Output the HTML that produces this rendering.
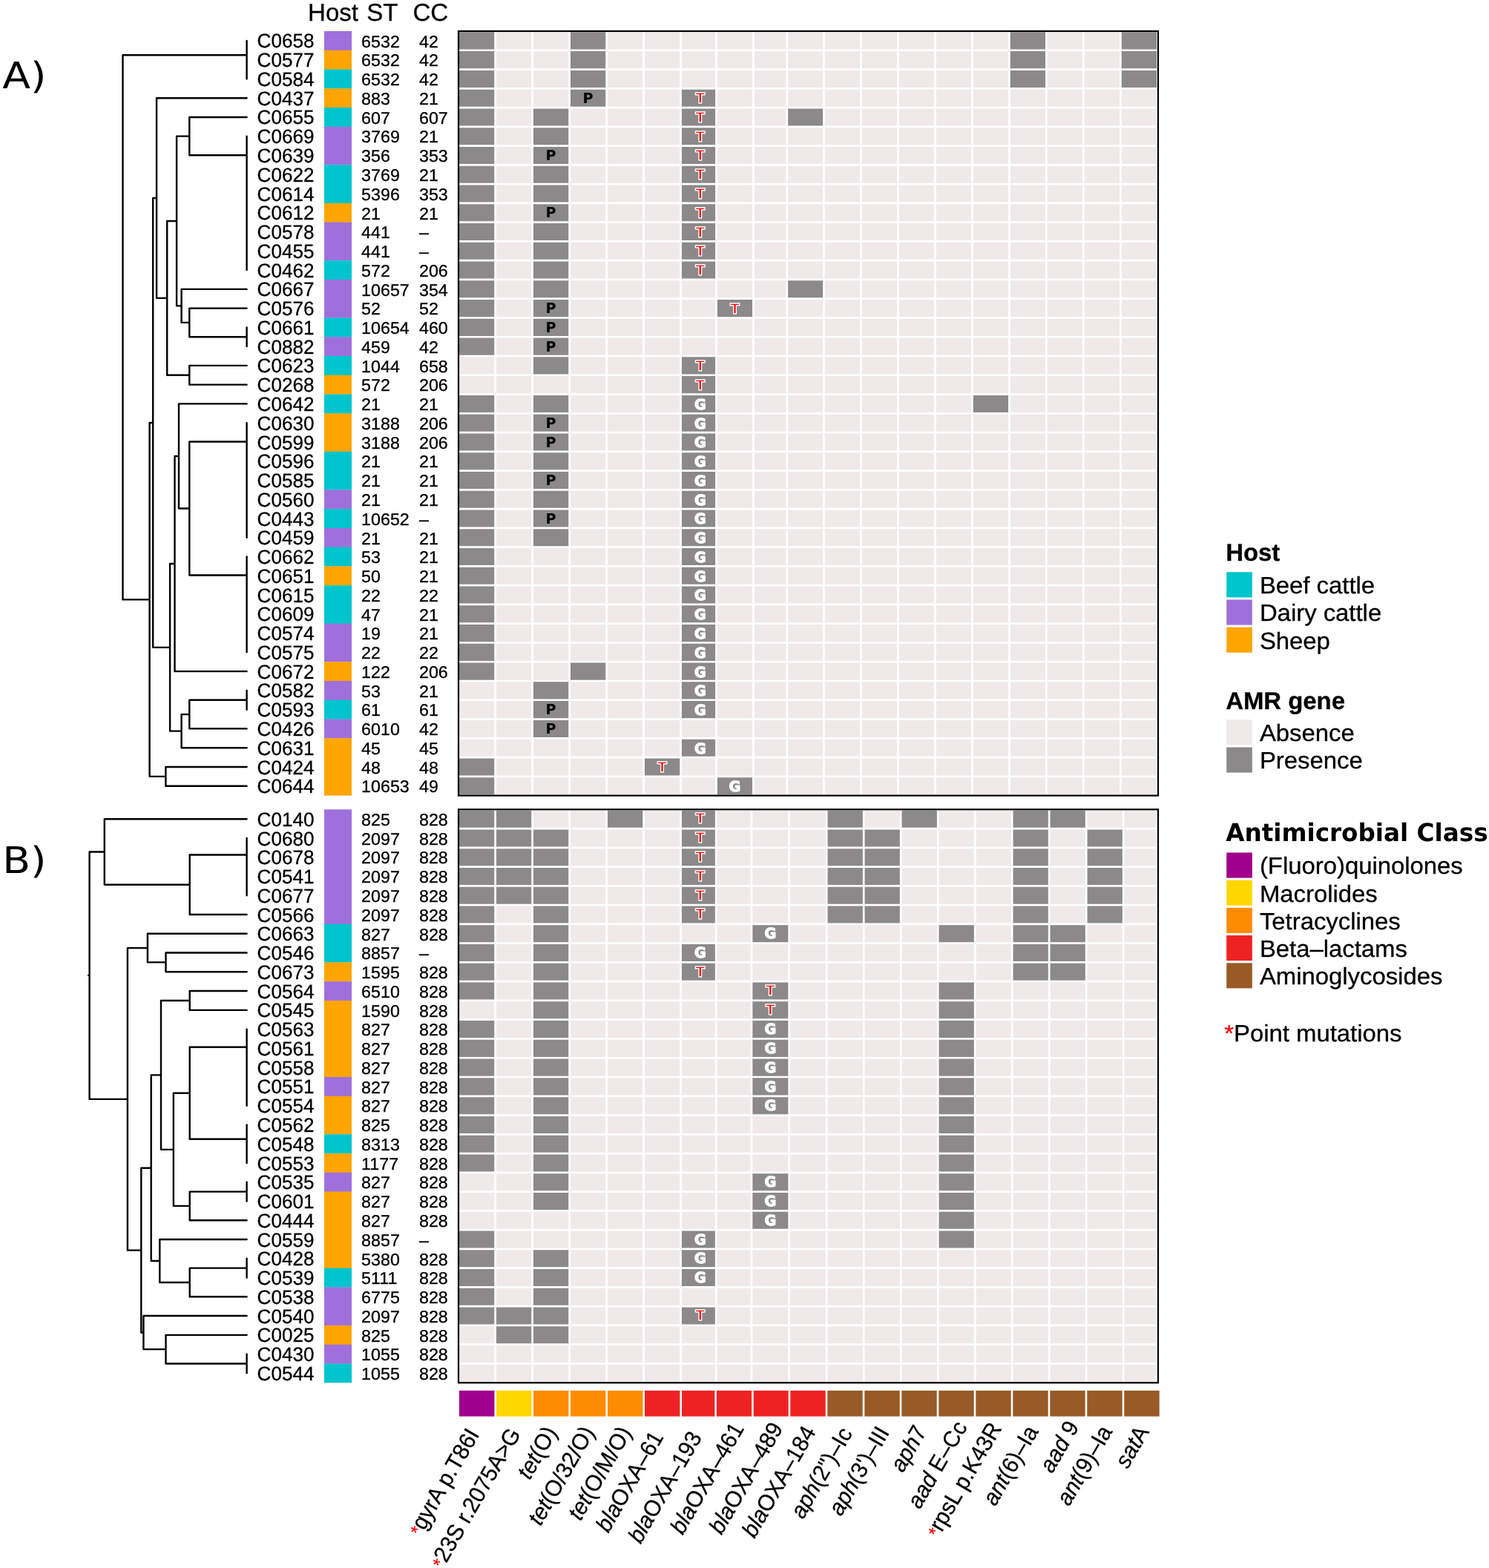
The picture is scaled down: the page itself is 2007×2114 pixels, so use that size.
<!DOCTYPE html>
<html lang="en"><head><meta charset="utf-8"><title>AMR gene heatmap with phylogeny</title>
<style>
html,body{margin:0;padding:0;background:#fff}
svg{display:block}
text{font-family:"Liberation Sans",Arial,Helvetica,sans-serif;fill:#000;text-rendering:geometricPrecision}
.dj{font-family:"DejaVu Sans",Verdana,sans-serif}
.b{font-weight:bold}
.i{font-style:italic}
.r{fill:#f00}
.rl,.st,.hd,.lg,.lgt,.cl{stroke:#000;stroke-width:0.3px}
.r{stroke:#f00}
.rl{font-size:26.6px}
.st{font-size:22.8px}
.hd{font-size:33.1px}
.lg{font-size:31.9px}
.cl{font-size:31px}
.lt{font-family:"DejaVu Sans",Verdana,sans-serif;font-weight:bold;font-size:19.2px;text-anchor:middle}
.lp{fill:#000}
.lh{stroke:#fff;stroke-width:1.3px;stroke-linejoin:round}
.lg2{fill:#fff}
.lt2{fill:#f00}
.tree{fill:none;stroke:#000;stroke-width:2.4;stroke-linecap:round;stroke-linejoin:round}
.box{fill:none;stroke:#000;stroke-width:2.2}
</style></head><body>
<svg width="2007" height="2114" viewBox="0 0 2007 2114" role="img" aria-label="AMR gene presence heatmaps with phylogenetic trees">
<rect width="2007" height="2114" fill="#fff"/>
<g class="hd"><text x="415" y="27.5">Host</text><text x="494.2" y="27.5">ST</text><text x="556.4" y="27.5">CC</text></g>
<text class="dj" font-size="49.3" transform="translate(3.2 118.75) scale(1.12 1)">A)</text>
<text class="dj" font-size="49.3" transform="translate(3.2 1177.0) scale(1.12 1)">B)</text>
<g id="panelA">
<path class="tree" d="M165.5 74.21V808.39M165.5 74.21H332.6M332.6 54.88V106.41M165.5 808.39H201.6M201.6 569.94V1046.84M201.6 569.94H206.2M206.2 267.03V872.85M206.2 267.03H211.05M211.05 132.18V401.88M211.05 132.18H332.6M211.05 401.88H225.2M225.2 297.99V505.77M225.2 297.99H238.1M238.1 183.61V412.37M238.1 183.61H255.3M255.3 157.94V209.27M255.3 157.94H332.6M255.3 209.27H332.6M332.6 183.71V364.06M238.1 412.37H244.6M244.6 389.83V434.92M244.6 389.83H332.6M244.6 434.92H255.3M255.3 415.59V454.24M255.3 415.59H332.6M255.3 454.24H332.6M332.6 441.36V467.12M225.2 505.77H255.3M255.3 492.89V518.65M255.3 492.89H332.6M255.3 518.65H332.6M206.2 872.85H229.1M229.1 760.05V985.64M229.1 760.05H235.5M235.5 614.97V905.13M235.5 614.97H241M241 544.42V685.52M241 544.42H332.6M241 685.52H255.3M255.3 595.54V775.5M255.3 595.54H332.6M332.6 570.18V724.77M255.3 775.5H332.6M332.6 750.54V879.36M235.5 905.13H332.6M229.1 985.64H244.6M244.6 963.1V1008.19M244.6 963.1H255.3M255.3 943.78V982.42M255.3 943.78H332.6M332.6 930.89V956.66M255.3 982.42H332.6M244.6 1008.19H332.6M201.6 1046.84H223.4M223.4 1033.95V1059.72M223.4 1033.95H332.6M223.4 1059.72H332.6"/>
<rect x="437" y="42" width="37" height="26.07" fill="#9f70dc"/>
<rect x="437" y="67.77" width="37" height="26.07" fill="#ffa500"/>
<rect x="437" y="93.53" width="37" height="26.07" fill="#00c5cd"/>
<rect x="437" y="119.3" width="37" height="26.07" fill="#ffa500"/>
<rect x="437" y="145.06" width="37" height="26.07" fill="#00c5cd"/>
<rect x="437" y="170.82" width="37" height="51.83" fill="#9f70dc"/>
<rect x="437" y="222.36" width="37" height="51.83" fill="#00c5cd"/>
<rect x="437" y="273.88" width="37" height="26.07" fill="#ffa500"/>
<rect x="437" y="299.65" width="37" height="51.83" fill="#9f70dc"/>
<rect x="437" y="351.18" width="37" height="26.07" fill="#00c5cd"/>
<rect x="437" y="376.94" width="37" height="51.83" fill="#9f70dc"/>
<rect x="437" y="428.48" width="37" height="26.07" fill="#00c5cd"/>
<rect x="437" y="454.24" width="37" height="26.07" fill="#9f70dc"/>
<rect x="437" y="480" width="37" height="26.07" fill="#00c5cd"/>
<rect x="437" y="505.77" width="37" height="26.07" fill="#ffa500"/>
<rect x="437" y="531.54" width="37" height="26.07" fill="#00c5cd"/>
<rect x="437" y="557.3" width="37" height="51.83" fill="#ffa500"/>
<rect x="437" y="608.83" width="37" height="51.83" fill="#00c5cd"/>
<rect x="437" y="660.36" width="37" height="26.07" fill="#9f70dc"/>
<rect x="437" y="686.12" width="37" height="26.07" fill="#00c5cd"/>
<rect x="437" y="711.89" width="37" height="26.07" fill="#9f70dc"/>
<rect x="437" y="737.65" width="37" height="26.07" fill="#00c5cd"/>
<rect x="437" y="763.42" width="37" height="26.07" fill="#ffa500"/>
<rect x="437" y="789.19" width="37" height="51.83" fill="#00c5cd"/>
<rect x="437" y="840.72" width="37" height="51.83" fill="#9f70dc"/>
<rect x="437" y="892.25" width="37" height="26.07" fill="#ffa500"/>
<rect x="437" y="918.01" width="37" height="26.07" fill="#9f70dc"/>
<rect x="437" y="943.77" width="37" height="26.07" fill="#00c5cd"/>
<rect x="437" y="969.54" width="37" height="26.07" fill="#9f70dc"/>
<rect x="437" y="995.31" width="37" height="77.3" fill="#ffa500"/>
<g class="rl" transform="translate(346.6 0) scale(0.98 1)">
<text y="64.43">C0658</text>
<text y="90.2">C0577</text>
<text y="115.96">C0584</text>
<text y="141.73">C0437</text>
<text y="167.49">C0655</text>
<text y="193.26">C0669</text>
<text y="219.02">C0639</text>
<text y="244.79">C0622</text>
<text y="270.55">C0614</text>
<text y="296.32">C0612</text>
<text y="322.08">C0578</text>
<text y="347.85">C0455</text>
<text y="373.61">C0462</text>
<text y="399.38">C0667</text>
<text y="425.14">C0576</text>
<text y="450.91">C0661</text>
<text y="476.67">C0882</text>
<text y="502.44">C0623</text>
<text y="528.2">C0268</text>
<text y="553.97">C0642</text>
<text y="579.73">C0630</text>
<text y="605.5">C0599</text>
<text y="631.26">C0596</text>
<text y="657.03">C0585</text>
<text y="682.79">C0560</text>
<text y="708.56">C0443</text>
<text y="734.32">C0459</text>
<text y="760.09">C0662</text>
<text y="785.85">C0651</text>
<text y="811.62">C0615</text>
<text y="837.38">C0609</text>
<text y="863.15">C0574</text>
<text y="888.91">C0575</text>
<text y="914.68">C0672</text>
<text y="940.44">C0582</text>
<text y="966.21">C0593</text>
<text y="991.97">C0426</text>
<text y="1017.74">C0631</text>
<text y="1043.5">C0424</text>
<text y="1069.27">C0644</text>
</g>
<g class="st" transform="translate(487.1 0) scale(1.02 1)">
<text y="63.63">6532</text><text x="76.37" y="63.63">42</text>
<text y="89.4">6532</text><text x="76.37" y="89.4">42</text>
<text y="115.16">6532</text><text x="76.37" y="115.16">42</text>
<text y="140.93">883</text><text x="76.37" y="140.93">21</text>
<text y="166.69">607</text><text x="76.37" y="166.69">607</text>
<text y="192.46">3769</text><text x="76.37" y="192.46">21</text>
<text y="218.22">356</text><text x="76.37" y="218.22">353</text>
<text y="243.99">3769</text><text x="76.37" y="243.99">21</text>
<text y="269.75">5396</text><text x="76.37" y="269.75">353</text>
<text y="295.52">21</text><text x="76.37" y="295.52">21</text>
<text y="321.28">441</text><text x="76.37" y="321.28">–</text>
<text y="347.05">441</text><text x="76.37" y="347.05">–</text>
<text y="372.81">572</text><text x="76.37" y="372.81">206</text>
<text y="398.58">10657</text><text x="76.37" y="398.58">354</text>
<text y="424.34">52</text><text x="76.37" y="424.34">52</text>
<text y="450.11">10654</text><text x="76.37" y="450.11">460</text>
<text y="475.87">459</text><text x="76.37" y="475.87">42</text>
<text y="501.64">1044</text><text x="76.37" y="501.64">658</text>
<text y="527.4">572</text><text x="76.37" y="527.4">206</text>
<text y="553.17">21</text><text x="76.37" y="553.17">21</text>
<text y="578.93">3188</text><text x="76.37" y="578.93">206</text>
<text y="604.7">3188</text><text x="76.37" y="604.7">206</text>
<text y="630.46">21</text><text x="76.37" y="630.46">21</text>
<text y="656.23">21</text><text x="76.37" y="656.23">21</text>
<text y="681.99">21</text><text x="76.37" y="681.99">21</text>
<text y="707.76">10652</text><text x="76.37" y="707.76">–</text>
<text y="733.52">21</text><text x="76.37" y="733.52">21</text>
<text y="759.29">53</text><text x="76.37" y="759.29">21</text>
<text y="785.05">50</text><text x="76.37" y="785.05">21</text>
<text y="810.82">22</text><text x="76.37" y="810.82">22</text>
<text y="836.58">47</text><text x="76.37" y="836.58">21</text>
<text y="862.35">19</text><text x="76.37" y="862.35">21</text>
<text y="888.11">22</text><text x="76.37" y="888.11">22</text>
<text y="913.88">122</text><text x="76.37" y="913.88">206</text>
<text y="939.64">53</text><text x="76.37" y="939.64">21</text>
<text y="965.41">61</text><text x="76.37" y="965.41">61</text>
<text y="991.17">6010</text><text x="76.37" y="991.17">42</text>
<text y="1016.94">45</text><text x="76.37" y="1016.94">45</text>
<text y="1042.7">48</text><text x="76.37" y="1042.7">48</text>
<text y="1068.47">10653</text><text x="76.37" y="1068.47">49</text>
</g>
<rect x="618" y="42" width="943" height="1030.6" fill="#f0e9ea"/>
<path fill="#8b8989" d="M617.6 42H667.6V67.77H617.6ZM767.6 42H817.6V67.77H767.6ZM1360.4 42H1410.4V67.77H1360.4ZM1510.4 42H1560.4V67.77H1510.4ZM617.6 67.77H667.6V93.53H617.6ZM767.6 67.77H817.6V93.53H767.6ZM1360.4 67.77H1410.4V93.53H1360.4ZM1510.4 67.77H1560.4V93.53H1510.4ZM617.6 93.53H667.6V119.3H617.6ZM767.6 93.53H817.6V119.3H767.6ZM1360.4 93.53H1410.4V119.3H1360.4ZM1510.4 93.53H1560.4V119.3H1510.4ZM617.6 119.3H667.6V145.06H617.6ZM767.6 119.3H817.6V145.06H767.6ZM917.6 119.3H965.5V145.06H917.6ZM617.6 145.06H667.6V170.82H617.6ZM717.6 145.06H767.6V170.82H717.6ZM917.6 145.06H965.5V170.82H917.6ZM1060.8 145.06H1110.4V170.82H1060.8ZM617.6 170.82H667.6V196.59H617.6ZM717.6 170.82H767.6V196.59H717.6ZM917.6 170.82H965.5V196.59H917.6ZM617.6 196.59H667.6V222.36H617.6ZM717.6 196.59H767.6V222.36H717.6ZM917.6 196.59H965.5V222.36H917.6ZM617.6 222.36H667.6V248.12H617.6ZM717.6 222.36H767.6V248.12H717.6ZM917.6 222.36H965.5V248.12H917.6ZM617.6 248.12H667.6V273.88H617.6ZM717.6 248.12H767.6V273.88H717.6ZM917.6 248.12H965.5V273.88H917.6ZM617.6 273.88H667.6V299.65H617.6ZM717.6 273.88H767.6V299.65H717.6ZM917.6 273.88H965.5V299.65H917.6ZM617.6 299.65H667.6V325.42H617.6ZM717.6 299.65H767.6V325.42H717.6ZM917.6 299.65H965.5V325.42H917.6ZM617.6 325.42H667.6V351.18H617.6ZM717.6 325.42H767.6V351.18H717.6ZM917.6 325.42H965.5V351.18H917.6ZM617.6 351.18H667.6V376.94H617.6ZM717.6 351.18H767.6V376.94H717.6ZM917.6 351.18H965.5V376.94H917.6ZM617.6 376.94H667.6V402.71H617.6ZM717.6 376.94H767.6V402.71H717.6ZM1060.8 376.94H1110.4V402.71H1060.8ZM617.6 402.71H667.6V428.48H617.6ZM717.6 402.71H767.6V428.48H717.6ZM965.5 402.71H1015.4V428.48H965.5ZM617.6 428.48H667.6V454.24H617.6ZM717.6 428.48H767.6V454.24H717.6ZM617.6 454.24H667.6V480H617.6ZM717.6 454.24H767.6V480H717.6ZM717.6 480H767.6V505.77H717.6ZM917.6 480H965.5V505.77H917.6ZM917.6 505.77H965.5V531.54H917.6ZM617.6 531.54H667.6V557.3H617.6ZM717.6 531.54H767.6V557.3H717.6ZM917.6 531.54H965.5V557.3H917.6ZM1310.4 531.54H1360.4V557.3H1310.4ZM617.6 557.3H667.6V583.07H617.6ZM717.6 557.3H767.6V583.07H717.6ZM917.6 557.3H965.5V583.07H917.6ZM617.6 583.07H667.6V608.83H617.6ZM717.6 583.07H767.6V608.83H717.6ZM917.6 583.07H965.5V608.83H917.6ZM617.6 608.83H667.6V634.6H617.6ZM717.6 608.83H767.6V634.6H717.6ZM917.6 608.83H965.5V634.6H917.6ZM617.6 634.6H667.6V660.36H617.6ZM717.6 634.6H767.6V660.36H717.6ZM917.6 634.6H965.5V660.36H917.6ZM617.6 660.36H667.6V686.12H617.6ZM717.6 660.36H767.6V686.12H717.6ZM917.6 660.36H965.5V686.12H917.6ZM617.6 686.12H667.6V711.89H617.6ZM717.6 686.12H767.6V711.89H717.6ZM917.6 686.12H965.5V711.89H917.6ZM617.6 711.89H667.6V737.65H617.6ZM717.6 711.89H767.6V737.65H717.6ZM917.6 711.89H965.5V737.65H917.6ZM617.6 737.65H667.6V763.42H617.6ZM917.6 737.65H965.5V763.42H917.6ZM617.6 763.42H667.6V789.19H617.6ZM917.6 763.42H965.5V789.19H917.6ZM617.6 789.19H667.6V814.95H617.6ZM917.6 789.19H965.5V814.95H917.6ZM617.6 814.95H667.6V840.72H617.6ZM917.6 814.95H965.5V840.72H917.6ZM617.6 840.72H667.6V866.48H617.6ZM917.6 840.72H965.5V866.48H917.6ZM617.6 866.48H667.6V892.25H617.6ZM917.6 866.48H965.5V892.25H917.6ZM617.6 892.25H667.6V918.01H617.6ZM767.6 892.25H817.6V918.01H767.6ZM917.6 892.25H965.5V918.01H917.6ZM717.6 918.01H767.6V943.77H717.6ZM917.6 918.01H965.5V943.77H917.6ZM717.6 943.77H767.6V969.54H717.6ZM917.6 943.77H965.5V969.54H917.6ZM717.6 969.54H767.6V995.31H717.6ZM917.6 995.31H965.5V1021.07H917.6ZM617.6 1021.07H667.6V1046.84H617.6ZM867.6 1021.07H917.6V1046.84H867.6ZM617.6 1046.84H667.6V1072.6H617.6ZM965.5 1046.84H1015.4V1072.6H965.5Z"/>
<path fill="none" stroke="#fff" stroke-width="2.7" d="M618 42H1561M618 67.77H1561M618 93.53H1561M618 119.3H1561M618 145.06H1561M618 170.82H1561M618 196.59H1561M618 222.36H1561M618 248.12H1561M618 273.88H1561M618 299.65H1561M618 325.42H1561M618 351.18H1561M618 376.94H1561M618 402.71H1561M618 428.48H1561M618 454.24H1561M618 480H1561M618 505.77H1561M618 531.54H1561M618 557.3H1561M618 583.07H1561M618 608.83H1561M618 634.6H1561M618 660.36H1561M618 686.12H1561M618 711.89H1561M618 737.65H1561M618 763.42H1561M618 789.19H1561M618 814.95H1561M618 840.72H1561M618 866.48H1561M618 892.25H1561M618 918.01H1561M618 943.77H1561M618 969.54H1561M618 995.31H1561M618 1021.07H1561M618 1046.84H1561M618 1072.6H1561M617.6 42V1072.6M667.6 42V1072.6M717.6 42V1072.6M767.6 42V1072.6M817.6 42V1072.6M867.6 42V1072.6M917.6 42V1072.6M965.5 42V1072.6M1015.4 42V1072.6M1060.8 42V1072.6M1110.4 42V1072.6M1160.4 42V1072.6M1210.4 42V1072.6M1260.4 42V1072.6M1310.4 42V1072.6M1360.4 42V1072.6M1410.4 42V1072.6M1460.4 42V1072.6M1510.4 42V1072.6M1560.4 42V1072.6"/>
<text class="lt lp" x="792.6" y="138.88">P</text>
<text class="lt lh lt2" x="943.9" y="139.18">T</text>
<text class="lt lh lt2" x="943.9" y="164.94">T</text>
<text class="lt lh lt2" x="943.9" y="190.71">T</text>
<text class="lt lp" x="742.6" y="216.17">P</text>
<text class="lt lh lt2" x="943.9" y="216.47">T</text>
<text class="lt lh lt2" x="943.9" y="242.24">T</text>
<text class="lt lh lt2" x="943.9" y="268">T</text>
<text class="lt lp" x="742.6" y="293.47">P</text>
<text class="lt lh lt2" x="943.9" y="293.77">T</text>
<text class="lt lh lt2" x="943.9" y="319.53">T</text>
<text class="lt lh lt2" x="943.9" y="345.3">T</text>
<text class="lt lh lt2" x="943.9" y="371.06">T</text>
<text class="lt lp" x="742.6" y="422.29">P</text>
<text class="lt lh lt2" x="990.45" y="422.59">T</text>
<text class="lt lp" x="742.6" y="448.06">P</text>
<text class="lt lp" x="742.6" y="473.82">P</text>
<text class="lt lh lt2" x="943.9" y="499.89">T</text>
<text class="lt lh lt2" x="943.9" y="525.65">T</text>
<text class="lt lh lg2" x="943.9" y="551.82">G</text>
<text class="lt lp" x="742.6" y="576.88">P</text>
<text class="lt lh lg2" x="943.9" y="577.58">G</text>
<text class="lt lp" x="742.6" y="602.65">P</text>
<text class="lt lh lg2" x="943.9" y="603.35">G</text>
<text class="lt lh lg2" x="943.9" y="629.11">G</text>
<text class="lt lp" x="742.6" y="654.18">P</text>
<text class="lt lh lg2" x="943.9" y="654.88">G</text>
<text class="lt lh lg2" x="943.9" y="680.64">G</text>
<text class="lt lp" x="742.6" y="705.71">P</text>
<text class="lt lh lg2" x="943.9" y="706.41">G</text>
<text class="lt lh lg2" x="943.9" y="732.17">G</text>
<text class="lt lh lg2" x="943.9" y="757.94">G</text>
<text class="lt lh lg2" x="943.9" y="783.7">G</text>
<text class="lt lh lg2" x="943.9" y="809.47">G</text>
<text class="lt lh lg2" x="943.9" y="835.23">G</text>
<text class="lt lh lg2" x="943.9" y="861">G</text>
<text class="lt lh lg2" x="943.9" y="886.76">G</text>
<text class="lt lh lg2" x="943.9" y="912.53">G</text>
<text class="lt lh lg2" x="943.9" y="938.29">G</text>
<text class="lt lp" x="742.6" y="963.36">P</text>
<text class="lt lh lg2" x="943.9" y="964.06">G</text>
<text class="lt lp" x="742.6" y="989.12">P</text>
<text class="lt lh lg2" x="943.9" y="1015.59">G</text>
<text class="lt lh lt2" x="892.6" y="1040.95">T</text>
<text class="lt lh lg2" x="990.45" y="1067.12">G</text>
<rect class="box" x="618" y="42" width="943" height="1030.6"/>
</g>
<g id="panelB">
<path class="tree" d="M120.6 1148.47V1481.88M120.6 1148.47H140.8M140.8 1104.18V1192.75M140.8 1104.18H332.6M140.8 1192.75H255.7M255.7 1152.49V1233.01M255.7 1152.49H332.6M332.6 1129.95V1207.24M255.7 1233.01H332.6M120.6 1481.88H171.9M171.9 1278.1V1685.66M171.9 1278.1H198.9M198.9 1258.77V1297.42M198.9 1258.77H332.6M198.9 1297.42H223.5M223.5 1284.54V1310.3M223.5 1284.54H332.6M223.5 1310.3H332.6M171.9 1685.66H190.3M190.3 1574.7V1796.62M190.3 1574.7H203.7M203.7 1449.39V1700M203.7 1449.39H217M217 1348.95V1549.84M217 1348.95H255.7M255.7 1336.07V1361.83M255.7 1336.07H332.6M255.7 1361.83H332.6M217 1549.84H233.85M233.85 1473.75V1625.92M233.85 1473.75H255.7M255.7 1411.75V1535.75M255.7 1411.75H332.6M332.6 1387.6V1490.66M255.7 1535.75H332.6M332.6 1516.42V1567.95M233.85 1625.92H255.7M255.7 1606.6V1645.25M255.7 1606.6H332.6M332.6 1593.72V1619.48M255.7 1645.25H332.6M203.7 1700H215.3M215.3 1671.01V1728.98M215.3 1671.01H332.6M215.3 1728.98H255.7M255.7 1709.66V1748.31M255.7 1709.66H332.6M332.6 1696.78V1722.54M255.7 1748.31H332.6M190.3 1796.62H193.4M193.4 1774.07V1819.16M193.4 1774.07H332.6M193.4 1819.16H223.5M223.5 1799.84V1838.48M223.5 1799.84H332.6M223.5 1838.48H332.6M332.6 1825.6V1851.37M119.3 1314.9H120.6"/>
<rect x="437" y="1091.3" width="37" height="154.89" fill="#9f70dc"/>
<rect x="437" y="1245.89" width="37" height="51.83" fill="#00c5cd"/>
<rect x="437" y="1297.42" width="37" height="26.07" fill="#ffa500"/>
<rect x="437" y="1323.18" width="37" height="26.07" fill="#9f70dc"/>
<rect x="437" y="1348.95" width="37" height="103.36" fill="#ffa500"/>
<rect x="437" y="1452.01" width="37" height="26.07" fill="#9f70dc"/>
<rect x="437" y="1477.78" width="37" height="51.83" fill="#ffa500"/>
<rect x="437" y="1529.3" width="37" height="26.07" fill="#00c5cd"/>
<rect x="437" y="1555.07" width="37" height="26.07" fill="#ffa500"/>
<rect x="437" y="1580.84" width="37" height="26.07" fill="#9f70dc"/>
<rect x="437" y="1606.6" width="37" height="103.36" fill="#ffa500"/>
<rect x="437" y="1709.66" width="37" height="26.07" fill="#00c5cd"/>
<rect x="437" y="1735.42" width="37" height="51.83" fill="#9f70dc"/>
<rect x="437" y="1786.95" width="37" height="26.07" fill="#ffa500"/>
<rect x="437" y="1812.72" width="37" height="26.07" fill="#9f70dc"/>
<rect x="437" y="1838.49" width="37" height="25.77" fill="#00c5cd"/>
<g class="rl" transform="translate(346.6 0) scale(0.98 1)">
<text y="1113.73">C0140</text>
<text y="1139.5">C0680</text>
<text y="1165.26">C0678</text>
<text y="1191.03">C0541</text>
<text y="1216.79">C0677</text>
<text y="1242.56">C0566</text>
<text y="1268.32">C0663</text>
<text y="1294.09">C0546</text>
<text y="1319.85">C0673</text>
<text y="1345.62">C0564</text>
<text y="1371.38">C0545</text>
<text y="1397.15">C0563</text>
<text y="1422.91">C0561</text>
<text y="1448.68">C0558</text>
<text y="1474.44">C0551</text>
<text y="1500.21">C0554</text>
<text y="1525.97">C0562</text>
<text y="1551.74">C0548</text>
<text y="1577.5">C0553</text>
<text y="1603.27">C0535</text>
<text y="1629.03">C0601</text>
<text y="1654.8">C0444</text>
<text y="1680.56">C0559</text>
<text y="1706.33">C0428</text>
<text y="1732.09">C0539</text>
<text y="1757.86">C0538</text>
<text y="1783.62">C0540</text>
<text y="1809.39">C0025</text>
<text y="1835.15">C0430</text>
<text y="1860.92">C0544</text>
</g>
<g class="st" transform="translate(487.1 0) scale(1.02 1)">
<text y="1112.93">825</text><text x="76.37" y="1112.93">828</text>
<text y="1138.7">2097</text><text x="76.37" y="1138.7">828</text>
<text y="1164.46">2097</text><text x="76.37" y="1164.46">828</text>
<text y="1190.23">2097</text><text x="76.37" y="1190.23">828</text>
<text y="1215.99">2097</text><text x="76.37" y="1215.99">828</text>
<text y="1241.76">2097</text><text x="76.37" y="1241.76">828</text>
<text y="1267.52">827</text><text x="76.37" y="1267.52">828</text>
<text y="1293.29">8857</text><text x="76.37" y="1293.29">–</text>
<text y="1319.05">1595</text><text x="76.37" y="1319.05">828</text>
<text y="1344.82">6510</text><text x="76.37" y="1344.82">828</text>
<text y="1370.58">1590</text><text x="76.37" y="1370.58">828</text>
<text y="1396.35">827</text><text x="76.37" y="1396.35">828</text>
<text y="1422.11">827</text><text x="76.37" y="1422.11">828</text>
<text y="1447.88">827</text><text x="76.37" y="1447.88">828</text>
<text y="1473.64">827</text><text x="76.37" y="1473.64">828</text>
<text y="1499.41">827</text><text x="76.37" y="1499.41">828</text>
<text y="1525.17">825</text><text x="76.37" y="1525.17">828</text>
<text y="1550.94">8313</text><text x="76.37" y="1550.94">828</text>
<text y="1576.7">1177</text><text x="76.37" y="1576.7">828</text>
<text y="1602.47">827</text><text x="76.37" y="1602.47">828</text>
<text y="1628.23">827</text><text x="76.37" y="1628.23">828</text>
<text y="1654">827</text><text x="76.37" y="1654">828</text>
<text y="1679.76">8857</text><text x="76.37" y="1679.76">–</text>
<text y="1705.53">5380</text><text x="76.37" y="1705.53">828</text>
<text y="1731.29">5111</text><text x="76.37" y="1731.29">828</text>
<text y="1757.06">6775</text><text x="76.37" y="1757.06">828</text>
<text y="1782.82">2097</text><text x="76.37" y="1782.82">828</text>
<text y="1808.59">825</text><text x="76.37" y="1808.59">828</text>
<text y="1834.35">1055</text><text x="76.37" y="1834.35">828</text>
<text y="1860.12">1055</text><text x="76.37" y="1860.12">828</text>
</g>
<rect x="618" y="1091.3" width="943" height="772.95" fill="#f0e9ea"/>
<path fill="#8b8989" d="M617.6 1091.3H667.6V1117.07H617.6ZM667.6 1091.3H717.6V1117.07H667.6ZM817.6 1091.3H867.6V1117.07H817.6ZM917.6 1091.3H965.2V1117.07H917.6ZM1114.2 1091.3H1164.2V1117.07H1114.2ZM1214.2 1091.3H1264.2V1117.07H1214.2ZM1364.2 1091.3H1414.2V1117.07H1364.2ZM1414.2 1091.3H1464.2V1117.07H1414.2ZM617.6 1117.07H667.6V1142.83H617.6ZM667.6 1117.07H717.6V1142.83H667.6ZM717.6 1117.07H767.6V1142.83H717.6ZM917.6 1117.07H965.2V1142.83H917.6ZM1114.2 1117.07H1164.2V1142.83H1114.2ZM1164.2 1117.07H1214.2V1142.83H1164.2ZM1364.2 1117.07H1414.2V1142.83H1364.2ZM1464.2 1117.07H1514.2V1142.83H1464.2ZM617.6 1142.83H667.6V1168.6H617.6ZM667.6 1142.83H717.6V1168.6H667.6ZM717.6 1142.83H767.6V1168.6H717.6ZM917.6 1142.83H965.2V1168.6H917.6ZM1114.2 1142.83H1164.2V1168.6H1114.2ZM1164.2 1142.83H1214.2V1168.6H1164.2ZM1364.2 1142.83H1414.2V1168.6H1364.2ZM1464.2 1142.83H1514.2V1168.6H1464.2ZM617.6 1168.6H667.6V1194.36H617.6ZM667.6 1168.6H717.6V1194.36H667.6ZM717.6 1168.6H767.6V1194.36H717.6ZM917.6 1168.6H965.2V1194.36H917.6ZM1114.2 1168.6H1164.2V1194.36H1114.2ZM1164.2 1168.6H1214.2V1194.36H1164.2ZM1364.2 1168.6H1414.2V1194.36H1364.2ZM1464.2 1168.6H1514.2V1194.36H1464.2ZM617.6 1194.36H667.6V1220.12H617.6ZM667.6 1194.36H717.6V1220.12H667.6ZM717.6 1194.36H767.6V1220.12H717.6ZM917.6 1194.36H965.2V1220.12H917.6ZM1114.2 1194.36H1164.2V1220.12H1114.2ZM1164.2 1194.36H1214.2V1220.12H1164.2ZM1364.2 1194.36H1414.2V1220.12H1364.2ZM1464.2 1194.36H1514.2V1220.12H1464.2ZM617.6 1220.12H667.6V1245.89H617.6ZM717.6 1220.12H767.6V1245.89H717.6ZM917.6 1220.12H965.2V1245.89H917.6ZM1114.2 1220.12H1164.2V1245.89H1114.2ZM1164.2 1220.12H1214.2V1245.89H1164.2ZM1364.2 1220.12H1414.2V1245.89H1364.2ZM1464.2 1220.12H1514.2V1245.89H1464.2ZM617.6 1245.89H667.6V1271.65H617.6ZM717.6 1245.89H767.6V1271.65H717.6ZM1013 1245.89H1063.7V1271.65H1013ZM1264.2 1245.89H1314.2V1271.65H1264.2ZM1364.2 1245.89H1414.2V1271.65H1364.2ZM1414.2 1245.89H1464.2V1271.65H1414.2ZM617.6 1271.65H667.6V1297.42H617.6ZM717.6 1271.65H767.6V1297.42H717.6ZM917.6 1271.65H965.2V1297.42H917.6ZM1364.2 1271.65H1414.2V1297.42H1364.2ZM1414.2 1271.65H1464.2V1297.42H1414.2ZM617.6 1297.42H667.6V1323.18H617.6ZM717.6 1297.42H767.6V1323.18H717.6ZM917.6 1297.42H965.2V1323.18H917.6ZM1364.2 1297.42H1414.2V1323.18H1364.2ZM1414.2 1297.42H1464.2V1323.18H1414.2ZM617.6 1323.18H667.6V1348.95H617.6ZM717.6 1323.18H767.6V1348.95H717.6ZM1013 1323.18H1063.7V1348.95H1013ZM1264.2 1323.18H1314.2V1348.95H1264.2ZM717.6 1348.95H767.6V1374.71H717.6ZM1013 1348.95H1063.7V1374.71H1013ZM1264.2 1348.95H1314.2V1374.71H1264.2ZM617.6 1374.71H667.6V1400.48H617.6ZM717.6 1374.71H767.6V1400.48H717.6ZM1013 1374.71H1063.7V1400.48H1013ZM1264.2 1374.71H1314.2V1400.48H1264.2ZM617.6 1400.48H667.6V1426.24H617.6ZM717.6 1400.48H767.6V1426.24H717.6ZM1013 1400.48H1063.7V1426.24H1013ZM1264.2 1400.48H1314.2V1426.24H1264.2ZM617.6 1426.24H667.6V1452.01H617.6ZM717.6 1426.24H767.6V1452.01H717.6ZM1013 1426.24H1063.7V1452.01H1013ZM1264.2 1426.24H1314.2V1452.01H1264.2ZM617.6 1452.01H667.6V1477.78H617.6ZM717.6 1452.01H767.6V1477.78H717.6ZM1013 1452.01H1063.7V1477.78H1013ZM1264.2 1452.01H1314.2V1477.78H1264.2ZM617.6 1477.78H667.6V1503.54H617.6ZM717.6 1477.78H767.6V1503.54H717.6ZM1013 1477.78H1063.7V1503.54H1013ZM1264.2 1477.78H1314.2V1503.54H1264.2ZM617.6 1503.54H667.6V1529.3H617.6ZM717.6 1503.54H767.6V1529.3H717.6ZM1264.2 1503.54H1314.2V1529.3H1264.2ZM617.6 1529.3H667.6V1555.07H617.6ZM717.6 1529.3H767.6V1555.07H717.6ZM1264.2 1529.3H1314.2V1555.07H1264.2ZM617.6 1555.07H667.6V1580.84H617.6ZM717.6 1555.07H767.6V1580.84H717.6ZM1264.2 1555.07H1314.2V1580.84H1264.2ZM717.6 1580.84H767.6V1606.6H717.6ZM1013 1580.84H1063.7V1606.6H1013ZM1264.2 1580.84H1314.2V1606.6H1264.2ZM717.6 1606.6H767.6V1632.37H717.6ZM1013 1606.6H1063.7V1632.37H1013ZM1264.2 1606.6H1314.2V1632.37H1264.2ZM1013 1632.37H1063.7V1658.13H1013ZM1264.2 1632.37H1314.2V1658.13H1264.2ZM617.6 1658.13H667.6V1683.89H617.6ZM917.6 1658.13H965.2V1683.89H917.6ZM1264.2 1658.13H1314.2V1683.89H1264.2ZM617.6 1683.89H667.6V1709.66H617.6ZM717.6 1683.89H767.6V1709.66H717.6ZM917.6 1683.89H965.2V1709.66H917.6ZM617.6 1709.66H667.6V1735.42H617.6ZM717.6 1709.66H767.6V1735.42H717.6ZM917.6 1709.66H965.2V1735.42H917.6ZM617.6 1735.42H667.6V1761.19H617.6ZM717.6 1735.42H767.6V1761.19H717.6ZM617.6 1761.19H667.6V1786.95H617.6ZM667.6 1761.19H717.6V1786.95H667.6ZM717.6 1761.19H767.6V1786.95H717.6ZM917.6 1761.19H965.2V1786.95H917.6ZM667.6 1786.95H717.6V1812.72H667.6ZM717.6 1786.95H767.6V1812.72H717.6Z"/>
<path fill="none" stroke="#fff" stroke-width="2.7" d="M618 1091.3H1561M618 1117.07H1561M618 1142.83H1561M618 1168.6H1561M618 1194.36H1561M618 1220.12H1561M618 1245.89H1561M618 1271.65H1561M618 1297.42H1561M618 1323.18H1561M618 1348.95H1561M618 1374.71H1561M618 1400.48H1561M618 1426.24H1561M618 1452.01H1561M618 1477.78H1561M618 1503.54H1561M618 1529.3H1561M618 1555.07H1561M618 1580.84H1561M618 1606.6H1561M618 1632.37H1561M618 1658.13H1561M618 1683.89H1561M618 1709.66H1561M618 1735.42H1561M618 1761.19H1561M618 1786.95H1561M618 1812.72H1561M618 1838.49H1561M618 1864.25H1561M617.6 1091.3V1864.25M667.6 1091.3V1864.25M717.6 1091.3V1864.25M767.6 1091.3V1864.25M817.6 1091.3V1864.25M867.6 1091.3V1864.25M917.6 1091.3V1864.25M965.2 1091.3V1864.25M1013 1091.3V1864.25M1063.7 1091.3V1864.25M1114.2 1091.3V1864.25M1164.2 1091.3V1864.25M1214.2 1091.3V1864.25M1264.2 1091.3V1864.25M1314.2 1091.3V1864.25M1364.2 1091.3V1864.25M1414.2 1091.3V1864.25M1464.2 1091.3V1864.25M1514.2 1091.3V1864.25M1559.1 1091.3V1864.25"/>
<text class="lt lh lt2" x="943.9" y="1110.48">T</text>
<text class="lt lh lt2" x="943.9" y="1136.25">T</text>
<text class="lt lh lt2" x="943.9" y="1162.01">T</text>
<text class="lt lh lt2" x="943.9" y="1187.78">T</text>
<text class="lt lh lt2" x="943.9" y="1213.54">T</text>
<text class="lt lh lt2" x="943.9" y="1239.31">T</text>
<text class="lt lh lg2" x="1038.35" y="1265.47">G</text>
<text class="lt lh lg2" x="943.9" y="1291.24">G</text>
<text class="lt lh lt2" x="943.9" y="1316.6">T</text>
<text class="lt lh lt2" x="1038.35" y="1342.37">T</text>
<text class="lt lh lt2" x="1038.35" y="1368.13">T</text>
<text class="lt lh lg2" x="1038.35" y="1394.3">G</text>
<text class="lt lh lg2" x="1038.35" y="1420.06">G</text>
<text class="lt lh lg2" x="1038.35" y="1445.83">G</text>
<text class="lt lh lg2" x="1038.35" y="1471.59">G</text>
<text class="lt lh lg2" x="1038.35" y="1497.36">G</text>
<text class="lt lh lg2" x="1038.35" y="1600.42">G</text>
<text class="lt lh lg2" x="1038.35" y="1626.18">G</text>
<text class="lt lh lg2" x="1038.35" y="1651.95">G</text>
<text class="lt lh lg2" x="943.9" y="1677.71">G</text>
<text class="lt lh lg2" x="943.9" y="1703.48">G</text>
<text class="lt lh lg2" x="943.9" y="1729.24">G</text>
<text class="lt lh lt2" x="943.9" y="1780.37">T</text>
<rect class="box" x="618" y="1091.3" width="943" height="772.95"/>
</g>
<g id="classbar">
<rect x="619" y="1874.8" width="47.4" height="34.8" fill="#a0008b"/>
<rect x="669" y="1874.8" width="47.4" height="34.8" fill="#ffd700"/>
<rect x="719" y="1874.8" width="47.4" height="34.8" fill="#ff8c00"/>
<rect x="769" y="1874.8" width="47.4" height="34.8" fill="#ff8c00"/>
<rect x="819" y="1874.8" width="47.4" height="34.8" fill="#ff8c00"/>
<rect x="869" y="1874.8" width="47.4" height="34.8" fill="#ee2222"/>
<rect x="919" y="1874.8" width="44.35" height="34.8" fill="#ee2222"/>
<rect x="965.95" y="1874.8" width="47.2" height="34.8" fill="#ee2222"/>
<rect x="1015.75" y="1874.8" width="46.95" height="34.8" fill="#ee2222"/>
<rect x="1065.3" y="1874.8" width="47.4" height="34.8" fill="#ee2222"/>
<rect x="1115.3" y="1874.8" width="47.4" height="34.8" fill="#985a26"/>
<rect x="1165.3" y="1874.8" width="47.4" height="34.8" fill="#985a26"/>
<rect x="1215.3" y="1874.8" width="47.4" height="34.8" fill="#985a26"/>
<rect x="1265.3" y="1874.8" width="47.4" height="34.8" fill="#985a26"/>
<rect x="1315.3" y="1874.8" width="47.4" height="34.8" fill="#985a26"/>
<rect x="1365.3" y="1874.8" width="47.4" height="34.8" fill="#985a26"/>
<rect x="1415.3" y="1874.8" width="47.4" height="34.8" fill="#985a26"/>
<rect x="1465.3" y="1874.8" width="47.4" height="34.8" fill="#985a26"/>
<rect x="1515.3" y="1874.8" width="47.4" height="34.8" fill="#985a26"/>
</g>
<g class="cl" text-anchor="end">
<text transform="translate(646.93 1933.97) rotate(-60) scale(0.95 1)"><tspan class="r" font-size="24.8">*</tspan>gyrA p.T86I</text>
<text transform="translate(702.62 1933.11) rotate(-60) scale(0.95 1)"><tspan class="r" font-size="24.8">*</tspan>23S r.2075A&gt;G</text>
<text transform="translate(751.71 1930.96) rotate(-60) scale(0.95 1)"><tspan class="i">tet</tspan>(O)</text>
<text transform="translate(802.21 1930.76) rotate(-60) scale(0.95 1)"><tspan class="i">tet</tspan>(O/32/O)</text>
<text transform="translate(852.01 1930.96) rotate(-60) scale(0.95 1)"><tspan class="i">tet</tspan>(O/M/O)</text>
<text transform="translate(895.28 1937.22) rotate(-60) scale(0.95 1)"><tspan class="i">bla</tspan>OXA–61</text>
<text transform="translate(946.9 1937.82) rotate(-60) scale(0.95 1)"><tspan class="i">bla</tspan>OXA–193</text>
<text transform="translate(1003.68 1925.76) rotate(-60) scale(0.95 1)"><tspan class="i">bla</tspan>OXA–461</text>
<text transform="translate(1056.08 1925.62) rotate(-60) scale(0.95 1)"><tspan class="i">bla</tspan>OXA–489</text>
<text transform="translate(1100.46 1930.38) rotate(-60) scale(0.95 1)"><tspan class="i">bla</tspan>OXA–184</text>
<text transform="translate(1149.83 1932.36) rotate(-60) scale(0.95 1)"><tspan class="i">aph</tspan>(2")–Ic</text>
<text transform="translate(1199.68 1931.18) rotate(-60) scale(0.95 1)"><tspan class="i">aph</tspan>(3')–III</text>
<text transform="translate(1249.8 1929.81) rotate(-60) scale(0.95 1)"><tspan class="i">aph</tspan>7</text>
<text transform="translate(1304.53 1923.76) rotate(-60) scale(0.95 1)"><tspan class="i">aad</tspan> E–Cc</text>
<text transform="translate(1350.77 1925.56) rotate(-60) scale(0.95 1)"><tspan class="r" font-size="24.8">*</tspan>rpsL p.K43R</text>
<text transform="translate(1400.35 1929.72) rotate(-60) scale(0.95 1)"><tspan class="i">ant</tspan>(6)–Ia</text>
<text transform="translate(1455.2 1923.6) rotate(-60) scale(0.95 1)"><tspan class="i">aad</tspan> 9</text>
<text transform="translate(1500.05 1929.72) rotate(-60) scale(0.95 1)"><tspan class="i">ant</tspan>(9)–Ia</text>
<text transform="translate(1549.47 1930.24) rotate(-60) scale(0.95 1)"><tspan class="i">sat</tspan>A</text>
</g>
<g id="legends">
<text class="b lgt" transform="translate(1652.2 756) scale(1 1)" style="font-size:32.9px">Host</text>
<rect x="1653.2" y="771.3" width="34.6" height="34.1" fill="#00c5cd"/>
<text class="lg" transform="translate(1697.9 800.2) scale(1.03 1)">Beef cattle</text>
<rect x="1653.2" y="808.5" width="34.6" height="34.1" fill="#9f70dc"/>
<text class="lg" transform="translate(1697.9 837.4) scale(1.03 1)">Dairy cattle</text>
<rect x="1653.2" y="845.7" width="34.6" height="34.1" fill="#ffa500"/>
<text class="lg" transform="translate(1697.9 874.6) scale(1.03 1)">Sheep</text>
<text class="b lgt" transform="translate(1652.2 955.6) scale(1 1)" style="font-size:32.9px">AMR gene</text>
<rect x="1653.2" y="970.3" width="34.6" height="34.1" fill="#f0e9ea"/>
<text class="lg" transform="translate(1697.9 999.2) scale(1.03 1)">Absence</text>
<rect x="1653.2" y="1007.5" width="34.6" height="34.1" fill="#8b8989"/>
<text class="lg" transform="translate(1697.9 1036.4) scale(1.03 1)">Presence</text>
<text class="dj b" transform="translate(1652.2 1134.2) scale(0.98 1)" style="font-size:33.3px">Antimicrobial Class</text>
<rect x="1653.2" y="1149.5" width="34.6" height="34.1" fill="#a0008b"/>
<text class="lg" transform="translate(1697.9 1178.4) scale(1.03 1)">(Fluoro)quinolones</text>
<rect x="1653.2" y="1186.7" width="34.6" height="34.1" fill="#ffd700"/>
<text class="lg" transform="translate(1697.9 1215.6) scale(1.03 1)">Macrolides</text>
<rect x="1653.2" y="1223.9" width="34.6" height="34.1" fill="#ff8c00"/>
<text class="lg" transform="translate(1697.9 1252.8) scale(1.03 1)">Tetracyclines</text>
<rect x="1653.2" y="1261.1" width="34.6" height="34.1" fill="#ee2222"/>
<text class="lg" transform="translate(1697.9 1290) scale(1.03 1)">Beta–lactams</text>
<rect x="1653.2" y="1298.3" width="34.6" height="34.1" fill="#985a26"/>
<text class="lg" transform="translate(1697.9 1327.2) scale(1.03 1)">Aminoglycosides</text>
<text class="lg" transform="translate(1650.3 1404.1) scale(1.03 1)"><tspan class="r">*</tspan>Point mutations</text>
</g>
</svg></body></html>
